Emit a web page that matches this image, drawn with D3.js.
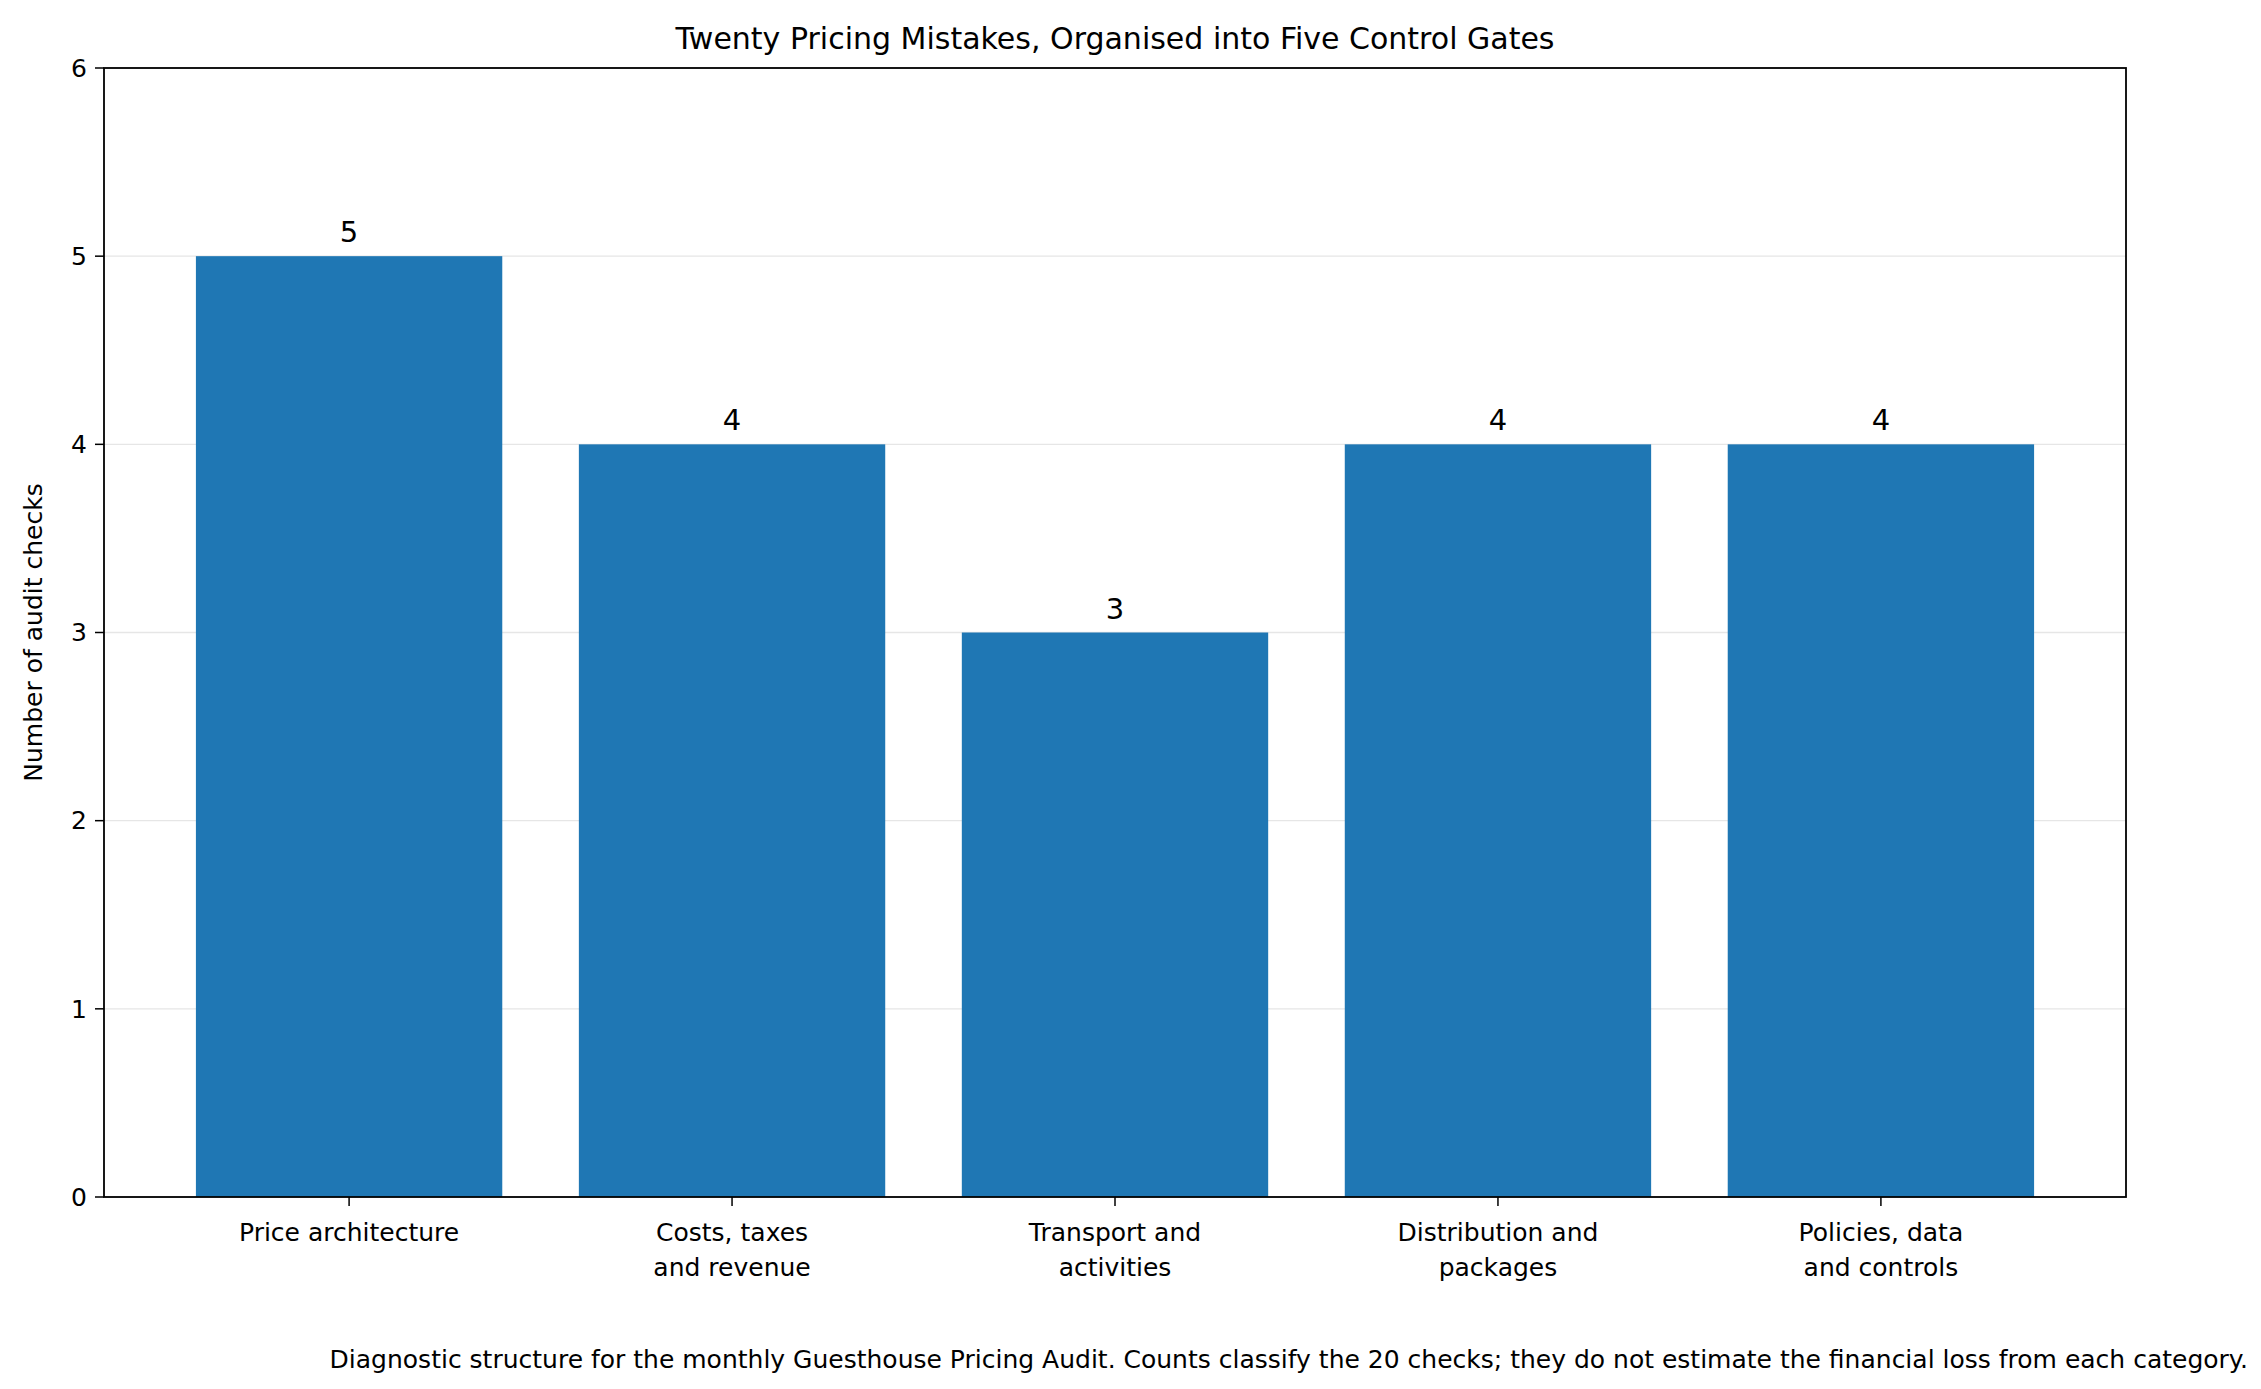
<!DOCTYPE html>
<html><head><meta charset="utf-8">
<script src="https://cdn.jsdelivr.net/npm/d3@7"></script>
<style>body{margin:0;background:#fff}text{font-family:"DejaVu Sans",sans-serif;fill:#000}</style>
</head><body><svg id="c" width="2261" height="1389"></svg>
<script>
const categories = [["Price architecture"], ["Costs, taxes", "and revenue"], ["Transport and", "activities"], ["Distribution and", "packages"], ["Policies, data", "and controls"]];
const counts = [5, 4, 3, 4, 4];
const yTicks = [0, 1, 2, 3, 4, 5, 6];

const svg = d3.select("#c");
const L = 104, R = 2126, T = 68, B = 1197;
const x = d3.scaleLinear().domain([-0.64, 4.64]).range([L, R]);
const y = d3.scaleLinear().domain([0, 6]).range([B, T]);

// gridlines
svg.selectAll(".g").data(yTicks).join("line")
  .attr("x1", L).attr("x2", R).attr("y1", d => y(d)).attr("y2", d => y(d))
  .attr("stroke", "#e6e6e6").attr("stroke-width", 1.4);

// bars
svg.selectAll(".bar").data(counts).join("rect")
  .attr("x", (d, i) => x(i - 0.4)).attr("width", x(0.8) - x(0))
  .attr("y", d => y(d)).attr("height", d => B - y(d)).attr("fill", "#1f77b4");

svg.selectAll(".val").data(counts).join("text")
  .attr("x", (d, i) => x(i)).attr("y", d => y(d) - 14)
  .attr("text-anchor", "middle").attr("font-size", 29).text(d => d);

// frame
svg.append("rect").attr("x", L).attr("y", T).attr("width", R - L).attr("height", B - T)
  .attr("fill", "none").attr("stroke", "#000").attr("stroke-width", 1.8);

// y ticks
const yt = svg.selectAll(".yt").data(yTicks).join("g").attr("transform", d => `translate(${L},${y(d)})`);
yt.append("line").attr("x1", -9).attr("x2", 0).attr("stroke", "#000").attr("stroke-width", 1.5);
yt.append("text").attr("x", -17).attr("dy", "0.35em").attr("text-anchor", "end").attr("font-size", 25).text(d => d);

// x ticks
const xt = svg.selectAll(".xt").data(categories).join("g").attr("transform", (d, i) => `translate(${x(i)},${B})`);
xt.append("line").attr("y2", 9).attr("stroke", "#000").attr("stroke-width", 1.5);
xt.each(function(d) {
  d3.select(this).selectAll("text").data(d).join("text")
    .attr("y", (s, j) => 44 + j * 35).attr("text-anchor", "middle").attr("font-size", 25).text(s => s);
});

svg.append("text").attr("x", (L + R) / 2).attr("y", 49).attr("text-anchor", "middle")
  .attr("font-size", 30).text("Twenty Pricing Mistakes, Organised into Five Control Gates");
svg.append("text").attr("transform", `translate(42,${(T + B) / 2}) rotate(-90)`).attr("text-anchor", "middle")
  .attr("font-size", 25).text("Number of audit checks");
svg.append("text").attr("x", 2248).attr("y", 1368).attr("text-anchor", "end")
  .attr("font-size", 25).text("Diagnostic structure for the monthly Guesthouse Pricing Audit. Counts classify the 20 checks; they do not estimate the financial loss from each category.");
</script></body></html>
